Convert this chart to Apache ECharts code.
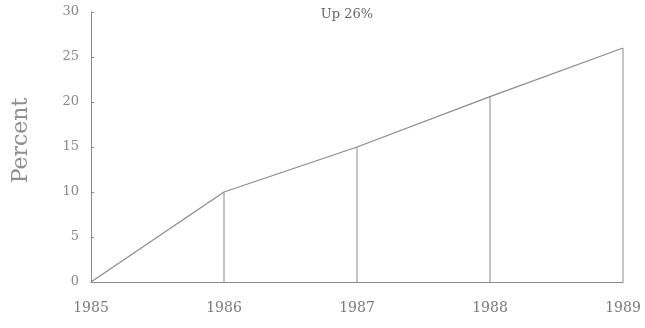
<!DOCTYPE html>
<html>
<head>
<meta charset="utf-8">
<script src="https://cdn.jsdelivr.net/npm/echarts@6/dist/echarts.min.js"></script>
<style>
  html, body { margin: 0; padding: 0; background: #fff; }
  #main { width: 645px; height: 328px; }
</style>
</head>
<body>
<div id="main"></div>
<script>
// data
var years = ['1985', '1986', '1987', '1988', '1989'];
var percent = [0, 10, 15, 20.6, 26];
var yTicks = [0, 5, 10, 15, 20, 25, 30];

var chart = echarts.init(document.getElementById('main'));

var grey = '#8a8a8a';
var font = 'DejaVu Serif';

var option = {
  backgroundColor: '#fff',
  animation: false,
  title: {
    text: 'Up 26%',
    left: 342,
    top: 3,
    textAlign: 'center',
    textStyle: { fontFamily: font, fontSize: 13, fontWeight: 'normal', color: '#666' }
  },
  grid: { left: 91, right: 22, top: 12, bottom: 46 },
  xAxis: {
    type: 'category',
    data: years,
    boundaryGap: false,
    axisLine: { lineStyle: { color: grey, width: 1 } },
    axisTick: { show: false },
    axisLabel: { margin: 19, fontFamily: font, fontSize: 14, color: '#7a7a7a' }
  },
  yAxis: {
    type: 'value',
    min: yTicks[0],
    max: yTicks[yTicks.length - 1],
    interval: 5,
    name: 'Percent',
    nameLocation: 'middle',
    nameGap: 59,
    nameTextStyle: { fontFamily: font, fontSize: 22, color: '#8f8f8f', padding: [0, 0, 0, 13] },
    splitLine: { show: false },
    axisLine: { show: true, lineStyle: { color: grey, width: 1 } },
    axisTick: { show: true, inside: true, length: 3, lineStyle: { color: grey } },
    axisLabel: { margin: 12, fontFamily: font, fontSize: 13, color: '#888' }
  },
  series: [
    {
      type: 'bar',
      data: percent,
      barWidth: 1,
      itemStyle: { color: grey },
      silent: true
    },
    {
      type: 'line',
      data: percent,
      symbol: 'none',
      lineStyle: { color: grey, width: 1.2 },
      silent: true
    }
  ]
};

chart.setOption(option);
</script>
</body>
</html>
